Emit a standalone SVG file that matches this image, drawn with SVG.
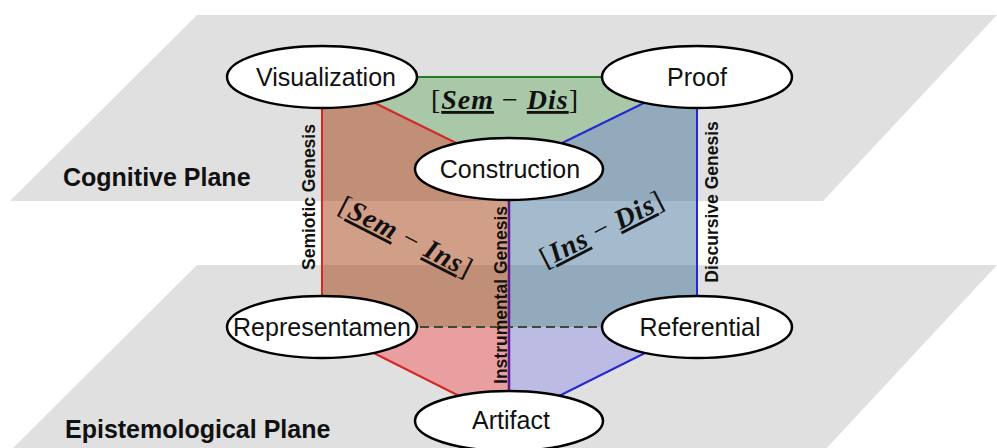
<svg xmlns="http://www.w3.org/2000/svg" width="997" height="448" viewBox="0 0 997 448">
<style>
.plane{fill:#e0e0e0}
.plabel{font-family:"Liberation Sans",Arial,sans-serif;font-weight:bold;font-size:25px;fill:#111}
.node ellipse{fill:#fff;stroke:#000;stroke-width:2.5}
.node text{font-family:"Liberation Sans",Arial,sans-serif;font-size:25px;fill:#111;text-anchor:middle}
.gen{font-family:"Liberation Sans",Arial,sans-serif;font-weight:bold;font-size:17.5px;fill:#111;text-anchor:middle}
.math{font-family:"Liberation Serif","DejaVu Serif",serif;font-size:28px;fill:#111;text-anchor:middle;letter-spacing:1px}
.mv{font-weight:bold;font-style:italic;text-decoration:underline}
.red{stroke:#d42828;stroke-width:2;fill:none}
.blue{stroke:#2828d0;stroke-width:2;fill:none}
.green{stroke:#2a7a2a;stroke-width:2;fill:none}
</style>
<!-- planes -->
<polygon class="plane" points="197,15 997,15 823,201 10,201"/>
<polygon class="plane" points="197,265 997,265 824,451 10,451"/>
<text class="plabel" x="63" y="186">Cognitive Plane</text>
<text class="plabel" x="65" y="438">Epistemological Plane</text>
<!-- faces -->
<rect x="322" y="77" width="375" height="250" fill="#008000" fill-opacity="0.25"/>
<polygon points="322,77 509,169 509,421 322,327" fill="#ff0000" fill-opacity="0.29"/>
<polygon points="509,169 697,77 697,327 509,421" fill="#5c5cf0" fill-opacity="0.28"/>
<!-- connectors -->
<g id="connectors">
<line class="green" x1="322" y1="77" x2="697" y2="77"/>
<line class="red" x1="322" y1="77" x2="509" y2="169"/>
<line class="red" x1="322" y1="77" x2="322" y2="327"/>
<line class="red" x1="322" y1="327" x2="509" y2="421"/>
<line class="blue" x1="697" y1="77" x2="509" y2="169"/>
<line class="blue" x1="697" y1="77" x2="697" y2="327"/>
<line class="blue" x1="697" y1="327" x2="509" y2="421"/>
<line x1="509" y1="169" x2="509" y2="421" stroke="#5e1a8e" stroke-width="2.5"/>
<line x1="322" y1="327" x2="697" y2="327" stroke="#3c4a3c" stroke-width="2" stroke-dasharray="9 5"/>
</g>
<!-- genesis labels -->
<text class="gen" transform="translate(315,197) rotate(-90)">Semiotic Genesis</text>
<text class="gen" transform="translate(507,295) rotate(-90)">Instrumental Genesis</text>
<text class="gen" transform="translate(718,202) rotate(-90)">Discursive Genesis</text>
<!-- math labels -->
<text class="math" x="505" y="109">[<tspan class="mv">Sem</tspan> − <tspan class="mv">Dis</tspan>]</text>
<text class="math" transform="translate(402,245) rotate(27)">[<tspan class="mv">Sem</tspan> − <tspan class="mv">Ins</tspan>]</text>
<text class="math" transform="translate(606,237) rotate(-27)">[<tspan class="mv">Ins</tspan> − <tspan class="mv">Dis</tspan>]</text>
<!-- nodes -->
<g id="visualization" class="node"><ellipse cx="322" cy="77" rx="95" ry="31"/><text x="326" y="86">Visualization</text></g>
<g id="proof" class="node"><ellipse cx="697" cy="77" rx="95" ry="31"/><text x="697" y="86">Proof</text></g>
<g id="construction" class="node"><ellipse cx="509" cy="169" rx="94" ry="31"/><text x="510" y="178">Construction</text></g>
<g id="representamen" class="node"><ellipse cx="322" cy="327" rx="95" ry="31"/><text x="322" y="336">Representamen</text></g>
<g id="referential" class="node"><ellipse cx="697" cy="327" rx="95" ry="31"/><text x="700" y="336">Referential</text></g>
<g id="artifact" class="node"><ellipse cx="509" cy="421" rx="94" ry="30"/><text x="511" y="429">Artifact</text></g>
</svg>
